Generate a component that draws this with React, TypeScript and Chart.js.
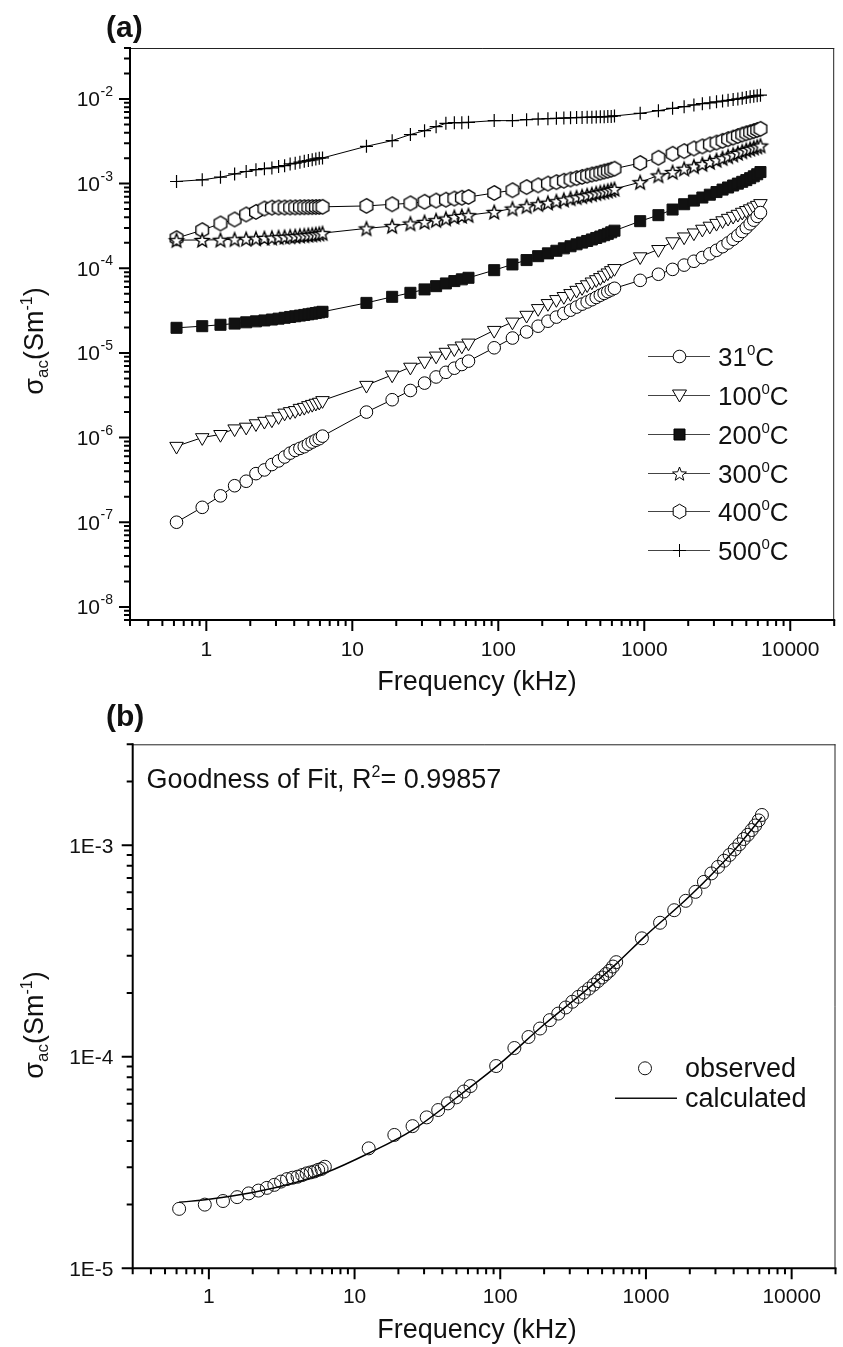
import React, { useEffect, useRef } from 'react';
import { Chart, registerables } from 'chart.js';
Chart.register(...registerables);

const FONT = '"Liberation Sans", Arial, Helvetica, sans-serif';

// ---------- DATA ----------
const frequency = [
  0.625, 0.9375, 1.25, 1.5625, 1.875, 2.1875, 2.5, 2.8125, 3.125, 3.4375, 3.75, 4.0625, 4.375, 4.6875, 5, 5.3125, 5.625, 5.9375, 6.25,
  12.5, 18.75, 25, 31.25, 37.5, 43.75, 50, 56.25, 62.5,
  93.75, 125, 156.25, 187.5, 218.75, 250, 281.25, 312.5, 343.75, 375, 406.25, 437.5, 468.75, 500, 531.25, 562.5, 593.75, 625,
  937.5, 1250, 1562.5, 1875, 2187.5, 2500, 2812.5, 3125, 3437.5, 3750, 4062.5, 4375, 4687.5, 5000, 5312.5, 5625, 5937.5, 6250,
];

const sigma31 = [
  1.0e-7, 1.5e-7, 2.05e-7, 2.7e-7, 3.05e-7, 3.75e-7, 4.15e-7, 4.8e-7, 5.3e-7, 5.9e-7, 6.55e-7, 7.05e-7, 7.45e-7, 7.8e-7, 8.35e-7, 8.85e-7, 9.3e-7, 9.7e-7, 1.04e-6,
  2.0e-6, 2.8e-6, 3.6e-6, 4.4e-6, 5.2e-6, 5.9e-6, 6.6e-6, 7.3e-6, 8.0e-6,
  1.15e-5, 1.5e-5, 1.77e-5, 2.07e-5, 2.37e-5, 2.65e-5, 2.93e-5, 3.2e-5, 3.48e-5, 3.77e-5, 4.0e-5, 4.25e-5, 4.52e-5, 4.8e-5, 5.05e-5, 5.3e-5, 5.55e-5, 5.8e-5,
  7.2e-5, 8.5e-5, 9.7e-5, 1.09e-4, 1.21e-4, 1.34e-4, 1.48e-4, 1.63e-4, 1.8e-4, 1.99e-4, 2.2e-4, 2.44e-4, 2.72e-4, 3.02e-4, 3.35e-4, 3.7e-4, 4.1e-4, 4.55e-4,
];
const sigma100 = [
  7.9e-7, 1.0e-6, 1.09e-6, 1.27e-6, 1.33e-6, 1.46e-6, 1.56e-6, 1.62e-6, 1.77e-6, 1.95e-6, 2.03e-6, 2.09e-6, 2.22e-6, 2.28e-6, 2.39e-6, 2.47e-6, 2.55e-6, 2.62e-6, 2.74e-6,
  4.15e-6, 5.5e-6, 6.8e-6, 8.0e-6, 9.2e-6, 1.02e-5, 1.12e-5, 1.21e-5, 1.31e-5,
  1.85e-5, 2.32e-5, 2.79e-5, 3.35e-5, 3.84e-5, 4.28e-5, 4.65e-5, 5.04e-5, 5.5e-5, 5.93e-5, 6.4e-5, 6.9e-5, 7.35e-5, 7.78e-5, 8.3e-5, 8.83e-5, 9.4e-5, 9.95e-5,
  1.37e-4, 1.67e-4, 2.06e-4, 2.35e-4, 2.62e-4, 2.9e-4, 3.15e-4, 3.4e-4, 3.65e-4, 3.9e-4, 4.12e-4, 4.35e-4, 4.6e-4, 4.82e-4, 5.05e-4, 5.3e-4, 5.55e-4, 5.82e-4,
];
const sigma200 = [
  1.98e-5, 2.07e-5, 2.15e-5, 2.22e-5, 2.3e-5, 2.36e-5, 2.42e-5, 2.48e-5, 2.54e-5, 2.6e-5, 2.66e-5, 2.71e-5, 2.76e-5, 2.81e-5, 2.86e-5, 2.91e-5, 2.96e-5, 3.01e-5, 3.06e-5,
  3.9e-5, 4.6e-5, 5.13e-5, 5.63e-5, 6.15e-5, 6.62e-5, 7.06e-5, 7.4e-5, 7.72e-5,
  9.5e-5, 1.11e-4, 1.25e-4, 1.39e-4, 1.5e-4, 1.61e-4, 1.72e-4, 1.82e-4, 1.92e-4, 2.01e-4, 2.1e-4, 2.19e-4, 2.28e-4, 2.37e-4, 2.46e-4, 2.55e-4, 2.66e-4, 2.78e-4,
  3.6e-4, 4.24e-4, 4.94e-4, 5.71e-4, 6.3e-4, 6.85e-4, 7.4e-4, 7.95e-4, 8.5e-4, 9.0e-4, 9.5e-4, 1.0e-3, 1.05e-3, 1.1e-3, 1.16e-3, 1.22e-3, 1.29e-3, 1.37e-3,
];
const sigma300 = [
  2.15e-4, 2.16e-4, 2.17e-4, 2.2e-4, 2.23e-4, 2.25e-4, 2.28e-4, 2.3e-4, 2.33e-4, 2.35e-4, 2.38e-4, 2.4e-4, 2.43e-4, 2.45e-4, 2.48e-4, 2.5e-4, 2.53e-4, 2.56e-4, 2.6e-4,
  2.96e-4, 3.15e-4, 3.38e-4, 3.53e-4, 3.7e-4, 3.87e-4, 4.05e-4, 4.15e-4, 4.24e-4,
  4.63e-4, 5.08e-4, 5.41e-4, 5.71e-4, 5.95e-4, 6.2e-4, 6.45e-4, 6.7e-4, 6.9e-4, 7.1e-4, 7.3e-4, 7.5e-4, 7.7e-4, 7.9e-4, 8.05e-4, 8.25e-4, 8.45e-4, 8.65e-4,
  1.04e-3, 1.25e-3, 1.37e-3, 1.5e-3, 1.6e-3, 1.7e-3, 1.8e-3, 1.9e-3, 2.0e-3, 2.1e-3, 2.2e-3, 2.3e-3, 2.4e-3, 2.5e-3, 2.58e-3, 2.66e-3, 2.74e-3, 2.82e-3,
];
const sigma400 = [
  2.27e-4, 2.82e-4, 3.38e-4, 3.77e-4, 4.32e-4, 4.63e-4, 5.08e-4, 5.2e-4, 5.22e-4, 5.22e-4, 5.23e-4, 5.24e-4, 5.25e-4, 5.26e-4, 5.27e-4, 5.28e-4, 5.29e-4, 5.3e-4, 5.32e-4,
  5.45e-4, 5.7e-4, 5.85e-4, 6.1e-4, 6.3e-4, 6.45e-4, 6.65e-4, 6.8e-4, 6.95e-4,
  7.75e-4, 8.35e-4, 9.1e-4, 9.55e-4, 1.0e-3, 1.04e-3, 1.08e-3, 1.12e-3, 1.16e-3, 1.2e-3, 1.24e-3, 1.28e-3, 1.31e-3, 1.35e-3, 1.39e-3, 1.42e-3, 1.46e-3, 1.5e-3,
  1.75e-3, 2.02e-3, 2.25e-3, 2.42e-3, 2.6e-3, 2.75e-3, 2.9e-3, 3.05e-3, 3.2e-3, 3.35e-3, 3.5e-3, 3.65e-3, 3.8e-3, 3.93e-3, 4.05e-3, 4.18e-3, 4.3e-3, 4.44e-3,
];
const sigma500 = [
  1.06e-3, 1.11e-3, 1.19e-3, 1.3e-3, 1.39e-3, 1.46e-3, 1.5e-3, 1.53e-3, 1.59e-3, 1.63e-3, 1.71e-3, 1.74e-3, 1.79e-3, 1.84e-3, 1.87e-3, 1.91e-3, 1.96e-3, 2.0e-3, 2.01e-3,
  2.76e-3, 3.22e-3, 3.8e-3, 4.22e-3, 4.71e-3, 5.15e-3, 5.25e-3, 5.25e-3, 5.3e-3,
  5.55e-3, 5.55e-3, 5.7e-3, 5.8e-3, 5.85e-3, 5.9e-3, 5.95e-3, 6.0e-3, 6.02e-3, 6.05e-3, 6.08e-3, 6.1e-3, 6.12e-3, 6.15e-3, 6.18e-3, 6.2e-3, 6.22e-3, 6.3e-3,
  6.76e-3, 7.28e-3, 7.75e-3, 8.1e-3, 8.5e-3, 8.8e-3, 9.0e-3, 9.25e-3, 9.45e-3, 9.65e-3, 9.85e-3, 1.0e-2, 1.02e-2, 1.04e-2, 1.06e-2, 1.08e-2, 1.095e-2, 1.11e-2,
];

const observed = [
  1.91e-5, 2.0e-5, 2.08e-5, 2.17e-5, 2.26e-5, 2.33e-5, 2.4e-5, 2.48e-5, 2.57e-5, 2.64e-5, 2.68e-5, 2.71e-5, 2.76e-5, 2.81e-5, 2.84e-5, 2.87e-5, 2.92e-5, 2.95e-5, 3.02e-5,
  3.69e-5, 4.27e-5, 4.7e-5, 5.17e-5, 5.6e-5, 6.02e-5, 6.43e-5, 6.85e-5, 7.27e-5,
  9.04e-5, 1.1e-4, 1.24e-4, 1.36e-4, 1.49e-4, 1.6e-4, 1.71e-4, 1.82e-4, 1.92e-4, 2.01e-4, 2.1e-4, 2.19e-4, 2.28e-4, 2.37e-4, 2.46e-4, 2.55e-4, 2.67e-4, 2.8e-4,
  3.63e-4, 4.3e-4, 4.93e-4, 5.46e-4, 6.02e-4, 6.71e-4, 7.36e-4, 7.9e-4, 8.45e-4, 9.0e-4, 9.55e-4, 1.01e-3, 1.07e-3, 1.12e-3, 1.18e-3, 1.24e-3, 1.31e-3, 1.39e-3,
];
const calcFrequency = [0.625, 1, 2, 4, 6.25, 12.5, 25, 50, 100, 200, 400, 625, 1000, 2000, 4000, 6250];
const calculated = [2.05e-5, 2.12e-5, 2.28e-5, 2.55e-5, 2.82e-5, 3.5e-5, 4.5e-5, 6.4e-5, 9.3e-5, 1.42e-4, 2.1e-4, 2.75e-4, 3.75e-4, 5.75e-4, 9.4e-4, 1.36e-3];

const seriesTemps = ['31', '100', '200', '300', '400', '500'];
const seriesMarkers = ['circle', 'triDown', 'square', 'star', 'hex', 'plus'];
const seriesValues = [sigma31, sigma100, sigma200, sigma300, sigma400, sigma500];

const xTickValues = [1, 10, 100, 1000, 10000];
const xTickLabels = ['1', '10', '100', '1000', '10000'];
const yTickExponentsA = [-2, -3, -4, -5, -6, -7, -8];
const yTickValuesB = [1e-3, 1e-4, 1e-5];
const yTickLabelsB = ['1E-3', '1E-4', '1E-5'];

// ---------- HELPERS ----------
type Seg = { t: string; size: number; dy?: number; bold?: boolean };

function drawRich(ctx: CanvasRenderingContext2D, segs: Seg[], x: number, y: number, align: 'left' | 'center' | 'right') {
  let total = 0;
  const widths = segs.map((s) => {
    ctx.font = `${s.bold ? 'bold ' : ''}${s.size}px ${FONT}`;
    const w = ctx.measureText(s.t).width;
    total += w;
    return w;
  });
  let cx = align === 'left' ? x : align === 'center' ? x - total / 2 : x - total;
  ctx.textAlign = 'left';
  ctx.textBaseline = 'alphabetic';
  segs.forEach((s, i) => {
    ctx.font = `${s.bold ? 'bold ' : ''}${s.size}px ${FONT}`;
    ctx.fillText(s.t, cx, y + (s.dy || 0));
    cx += widths[i];
  });
}

function markerPath(g: CanvasRenderingContext2D, kind: string, cx: number, cy: number) {
  g.beginPath();
  if (kind === 'circle') {
    g.arc(cx, cy, 6.3, 0, Math.PI * 2);
  } else if (kind === 'triDown') {
    g.moveTo(cx - 7, cy - 5.5);
    g.lineTo(cx + 7, cy - 5.5);
    g.lineTo(cx, cy + 6.5);
    g.closePath();
  } else if (kind === 'square') {
    g.rect(cx - 5.5, cy - 5.5, 11, 11);
  } else if (kind === 'star') {
    for (let i = 0; i < 10; i++) {
      const r = i % 2 ? 3.1 : 7.3;
      const a = -Math.PI / 2 + (i * Math.PI) / 5;
      const px = cx + r * Math.cos(a), py = cy + 0.8 + r * Math.sin(a);
      if (i === 0) g.moveTo(px, py); else g.lineTo(px, py);
    }
    g.closePath();
  } else if (kind === 'hex') {
    for (let i = 0; i < 6; i++) {
      const a = -Math.PI / 2 + (i * Math.PI) / 3;
      const px = cx + 7.3 * Math.cos(a), py = cy + 7.3 * Math.sin(a);
      if (i === 0) g.moveTo(px, py); else g.lineTo(px, py);
    }
    g.closePath();
  } else if (kind === 'plus') {
    g.moveTo(cx - 6.5, cy);
    g.lineTo(cx + 6.5, cy);
    g.moveTo(cx, cy - 6.5);
    g.lineTo(cx, cy + 6.5);
  }
}

function drawMarker(g: CanvasRenderingContext2D, kind: string, cx: number, cy: number, lw = 1) {
  g.save();
  g.lineWidth = lw;
  g.strokeStyle = '#000';
  g.fillStyle = kind === 'square' ? '#111' : '#fff';
  markerPath(g, kind, cx, cy);
  if (kind !== 'plus') g.fill();
  g.stroke();
  g.restore();
}

function makeMarker(kind: string): HTMLCanvasElement {
  const c = document.createElement('canvas');
  c.width = 20;
  c.height = 20;
  const g = c.getContext('2d')!;
  drawMarker(g, kind, 10, 10, 1.35);
  return c;
}

function logTicks(min: number, max: number) {
  const out: { v: number; major: boolean }[] = [];
  for (let e = Math.floor(Math.log10(min)) - 1; e <= Math.ceil(Math.log10(max)); e++) {
    for (let m = 1; m <= 9; m++) {
      const v = m * Math.pow(10, e);
      if (v < min * 0.9999 || v > max * 1.0001) continue;
      out.push({ v, major: m === 1 });
    }
  }
  return out;
}

function drawFrame(chart: any) {
  const ctx: CanvasRenderingContext2D = chart.ctx;
  const ca = chart.chartArea;
  const xs = chart.scales.x;
  const ys = chart.scales.y;
  ctx.save();
  ctx.strokeStyle = '#222';
  ctx.lineWidth = 1;
  ctx.beginPath();
  ctx.moveTo(ca.left, ca.top + 0.5);
  ctx.lineTo(ca.right, ca.top + 0.5);
  ctx.moveTo(ca.right - 0.5, ca.top);
  ctx.lineTo(ca.right - 0.5, ca.bottom);
  ctx.stroke();
  ctx.strokeStyle = '#000';
  ctx.lineWidth = 2;
  ctx.beginPath();
  ctx.moveTo(ca.left, ca.top - 1);
  ctx.lineTo(ca.left, ca.bottom);
  ctx.lineTo(ca.right + 1, ca.bottom);
  ctx.stroke();
  ctx.beginPath();
  logTicks(xs.min, xs.max).forEach((t) => {
    const p = xs.getPixelForValue(t.v);
    ctx.moveTo(p, ca.bottom);
    ctx.lineTo(p, ca.bottom + (t.major ? 11 : 6));
  });
  logTicks(ys.min, ys.max).forEach((t) => {
    const p = ys.getPixelForValue(t.v);
    ctx.moveTo(ca.left, p);
    ctx.lineTo(ca.left - (t.major ? 11 : 6), p);
  });
  ctx.stroke();
  ctx.restore();
}

function drawXLabels(chart: any, baseline: number, titleBaseline: number) {
  const ctx: CanvasRenderingContext2D = chart.ctx;
  const xs = chart.scales.x;
  ctx.save();
  ctx.fillStyle = '#111';
  xTickValues.forEach((v, i) => {
    drawRich(ctx, [{ t: xTickLabels[i], size: 21 }], xs.getPixelForValue(v), baseline, 'center');
  });
  drawRich(ctx, [{ t: 'Frequency (kHz)', size: 27 }], 477, titleBaseline, 'center');
  ctx.restore();
}

function drawYTitle(ctx: CanvasRenderingContext2D, x: number, cy: number) {
  ctx.save();
  ctx.fillStyle = '#111';
  ctx.translate(x, cy);
  ctx.rotate(-Math.PI / 2);
  drawRich(
    ctx,
    [
      { t: 'σ', size: 27 },
      { t: 'ac', size: 17, dy: 5 },
      { t: '(Sm', size: 27 },
      { t: '-1', size: 16, dy: -11 },
      { t: ')', size: 27 },
    ],
    0,
    0,
    'center'
  );
  ctx.restore();
}

// ---------- COMPONENT ----------
export default function App() {
  const refA = useRef<HTMLCanvasElement>(null);
  const refB = useRef<HTMLCanvasElement>(null);

  useEffect(() => {
    const starImg = makeMarker('star');
    const hexImg = makeMarker('hex');

    const styleFor = (kind: string): any => {
      const base = { borderColor: '#000', borderWidth: 1, pointBorderColor: '#000', pointBorderWidth: 1, pointBackgroundColor: '#fff' };
      if (kind === 'circle') return { ...base, pointStyle: 'circle', pointRadius: 6.3 };
      if (kind === 'triDown') return { ...base, pointStyle: 'triangle', pointRotation: 180, pointRadius: 7.8 };
      if (kind === 'square') return { ...base, pointStyle: 'rect', pointRadius: 7.8, pointBackgroundColor: '#111', pointBorderColor: '#111' };
      if (kind === 'star') return { ...base, pointStyle: starImg, pointRadius: 7 };
      if (kind === 'hex') return { ...base, pointStyle: hexImg, pointRadius: 7 };
      return { ...base, pointStyle: 'cross', pointRadius: 6.5, pointBorderWidth: 1.2 };
    };

    const pluginA = {
      id: 'decorA',
      afterDraw(chart: any) {
        drawFrame(chart);
        const ctx: CanvasRenderingContext2D = chart.ctx;
        const ys = chart.scales.y;
        ctx.save();
        ctx.fillStyle = '#111';
        drawRich(ctx, [{ t: '(a)', size: 30, bold: true }], 106, 37, 'left');
        yTickExponentsA.forEach((e) => {
          const p = ys.getPixelForValue(Math.pow(10, e));
          drawRich(ctx, [{ t: '10', size: 21 }], 100, p + 7.5, 'right');
          drawRich(ctx, [{ t: String(e), size: 14 }], 100.5, p - 3, 'left');
        });
        const rows = [356.5, 395.5, 434.5, 473.5, 511.5, 550.5];
        seriesTemps.forEach((t, i) => {
          const y = rows[i];
          ctx.strokeStyle = '#444';
          ctx.lineWidth = 1;
          ctx.beginPath();
          ctx.moveTo(648, y);
          ctx.lineTo(710, y);
          ctx.stroke();
          drawMarker(ctx, seriesMarkers[i], 679.5, y, 1);
          ctx.fillStyle = '#111';
          drawRich(
            ctx,
            [
              { t: t, size: 26 },
              { t: '0', size: 15, dy: -11 },
              { t: 'C', size: 26 },
            ],
            718,
            y + 9.5,
            'left'
          );
        });
        drawYTitle(ctx, 43, 341);
        ctx.restore();
        drawXLabels(chart, 656, 690);
      },
    };

    const pluginB = {
      id: 'decorB',
      afterDraw(chart: any) {
        drawFrame(chart);
        const ctx: CanvasRenderingContext2D = chart.ctx;
        const ys = chart.scales.y;
        ctx.save();
        ctx.fillStyle = '#111';
        drawRich(ctx, [{ t: '(b)', size: 30, bold: true }], 106, 26, 'left');
        yTickValuesB.forEach((v, i) => {
          const p = ys.getPixelForValue(v);
          drawRich(ctx, [{ t: yTickLabelsB[i], size: 21 }], 113.5, p + 7.5, 'right');
        });
        drawRich(
          ctx,
          [
            { t: 'Goodness of Fit, R', size: 27 },
            { t: '2', size: 16, dy: -11 },
            { t: '= 0.99857', size: 27 },
          ],
          146.5,
          88.3,
          'left'
        );
        ctx.strokeStyle = '#111';
        ctx.lineWidth = 1;
        ctx.beginPath();
        ctx.arc(645, 368.3, 6.5, 0, Math.PI * 2);
        ctx.stroke();
        ctx.lineWidth = 1.5;
        ctx.beginPath();
        ctx.moveTo(615, 398.3);
        ctx.lineTo(677, 398.3);
        ctx.stroke();
        drawRich(ctx, [{ t: 'observed', size: 27 }], 685, 376.7, 'left');
        drawRich(ctx, [{ t: 'calculated', size: 27 }], 685, 406.7, 'left');
        drawYTitle(ctx, 43, 325);
        ctx.restore();
        drawXLabels(chart, 603, 638);
      },
    };

    const hiddenAxis = (min: number, max: number, fit: (s: any) => void) => ({
      type: 'logarithmic' as const,
      min,
      max,
      ticks: { display: false },
      grid: { display: false },
      border: { display: false },
      title: { display: false },
      afterFit: fit,
    });

    const chartA = new Chart(refA.current!, {
      type: 'line',
      data: {
        datasets: seriesTemps.map((t, i) => ({
          label: t + '°C',
          data: frequency.map((f, j) => ({ x: f, y: seriesValues[i][j] })),
          ...styleFor(seriesMarkers[i]),
          fill: false,
          tension: 0,
        })),
      },
      options: {
        responsive: false,
        animation: false,
        devicePixelRatio: 1,
        events: [],
        layout: { padding: { top: 48, right: 3, left: 0, bottom: 0 } },
        plugins: { legend: { display: false }, tooltip: { enabled: false }, title: { display: false } },
        scales: {
          x: hiddenAxis(0.3, 20000, (s: any) => { s.height = 80; }),
          y: hiddenAxis(7e-9, 0.04, (s: any) => { s.width = 130; }),
        },
      } as any,
      plugins: [pluginA],
    });

    const chartB = new Chart(refB.current!, {
      type: 'line',
      data: {
        datasets: [
          {
            label: 'observed',
            data: frequency.map((f, j) => ({ x: f, y: observed[j] })),
            showLine: false,
            pointStyle: 'circle',
            pointRadius: 6.5,
            pointHoverRadius: 6.5,
            pointBackgroundColor: 'rgba(0,0,0,0)',
            pointBorderColor: '#111',
            pointBorderWidth: 1,
          },
          {
            label: 'calculated',
            data: calcFrequency.map((f, j) => ({ x: f, y: calculated[j] })),
            borderColor: '#000',
            borderWidth: 1.5,
            pointRadius: 0,
            fill: false,
            cubicInterpolationMode: 'monotone',
          },
        ],
      },
      options: {
        responsive: false,
        animation: false,
        devicePixelRatio: 1,
        events: [],
        layout: { padding: { top: 44.3, right: 1.3, left: 0, bottom: 0 } },
        plugins: { legend: { display: false }, tooltip: { enabled: false }, title: { display: false } },
        scales: {
          x: hiddenAxis(0.3, 20000, (s: any) => { s.height = 78.7; }),
          y: hiddenAxis(1e-5, 3e-3, (s: any) => { s.width = 132.7; }),
        },
      } as any,
      plugins: [pluginB],
    });

    return () => {
      chartA.destroy();
      chartB.destroy();
    };
  }, []);

  return (
    <div style={{ position: 'absolute', left: 0, top: 0, width: 843, height: 1347, background: '#fff' }}>
      <canvas ref={refA} width={843} height={700} style={{ position: 'absolute', left: 0, top: 0, width: 843, height: 700 }} />
      <canvas ref={refB} width={843} height={647} style={{ position: 'absolute', left: 0, top: 700, width: 843, height: 647 }} />
    </div>
  );
}
